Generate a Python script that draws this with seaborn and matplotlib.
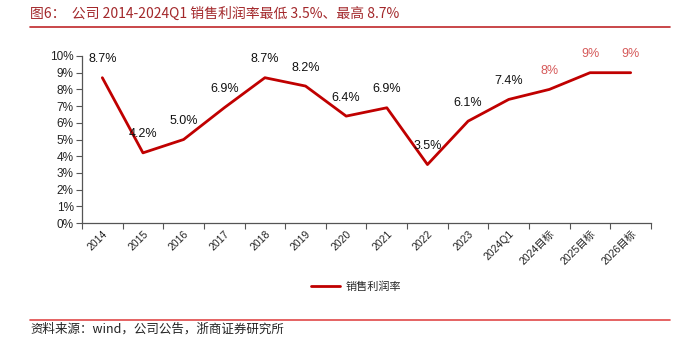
import matplotlib
matplotlib.use("Agg")
import matplotlib.pyplot as plt
from matplotlib.lines import Line2D
from matplotlib.ticker import FuncFormatter, FixedLocator
import seaborn as sns
import pandas as pd

periods = ["2014", "2015", "2016", "2017", "2018", "2019", "2020", "2021",
           "2022", "2023", "2024Q1", "2024目标", "2025目标", "2026目标"]
margin = [8.7, 4.2, 5.0, 6.9, 8.7, 8.2, 6.4, 6.9, 3.5, 6.1, 7.4, 8, 9, 9]
is_target = [False] * 11 + [True] * 3

title_text = "图6：  公司 2014-2024Q1 销售利润率最低 3.5%、最高 8.7%"
series_name = "销售利润率"
source_text = "资料来源：wind，公司公告，浙商证券研究所"

sns.set_theme(style="white")
plt.rcParams["font.family"] = ["Liberation Sans", "Noto Sans CJK SC", "DejaVu Sans"]
cjk = ["Noto Sans CJK SC", "DejaVu Sans"]

LINE_RED = "#C00000"
TARGET_RED = "#D65A5A"

df = pd.DataFrame({"period": periods, "rate": margin})

fig = plt.figure(figsize=(6.84, 3.37), dpi=100)
ax = fig.add_axes([82 / 684, 1 - 223 / 337, (651 - 82) / 684, (223 - 56) / 337])

sns.lineplot(data=df, x="period", y="rate", sort=False, color=LINE_RED,
             linewidth=2.0, ax=ax, legend=False)

n = len(periods)
ax.set_xlim(-0.5, n - 0.5)
ax.set_ylim(0, 10)
ax.set_yticks(range(0, 11))
ax.yaxis.set_major_formatter(FuncFormatter(lambda v, _: f"{v:.0f}%"))
ax.set_xlabel("")
ax.set_ylabel("")

# category labels at centres, tick marks on the category boundaries
ax.set_xticks(range(n))
ax.set_xticklabels(periods, rotation=45, ha="right", rotation_mode="anchor",
                   fontsize=7.5, color="#222222")
ax.xaxis.set_minor_locator(FixedLocator([i + 0.5 for i in range(-1, n)]))
ax.tick_params(axis="x", which="major", length=0, pad=4)
ax.tick_params(axis="x", which="minor", length=4, width=0.8, color="#555555",
               direction="out", bottom=True)
ax.tick_params(axis="y", which="major", length=4, width=0.8, color="#555555",
               direction="out", left=True, labelsize=8.5, labelcolor="#222222", pad=2)

for side in ("top", "right"):
    ax.spines[side].set_visible(False)
for side in ("left", "bottom"):
    ax.spines[side].set_color("#555555")
    ax.spines[side].set_linewidth(0.9)

# value labels above each point
for i, (v, tgt) in enumerate(zip(margin, is_target)):
    label = f"{v:.0f}%" if tgt else f"{v:.1f}%"
    ax.annotate(label, (i, v), xytext=(0, 9), textcoords="offset points",
                ha="center", va="bottom", fontsize=9,
                color=TARGET_RED if tgt else "#111111")

# legend below the axis
handle = Line2D([], [], color=LINE_RED, linewidth=2.0)
fig.legend([handle], [series_name], loc="center", bbox_to_anchor=(356 / 684, 1 - 287 / 337),
           frameon=False, prop={"family": cjk, "size": 8}, handlelength=2.6,
           handletextpad=0.5)

# header and footer
fig.text(30 / 684, 1 - 14 / 337, title_text, ha="left", va="center",
         fontsize=10, color="#A3282B", family=cjk)
fig.add_artist(Line2D([30 / 684, 670 / 684], [1 - 27 / 337] * 2,
                      color="#C0282B", linewidth=1.2, transform=fig.transFigure))
fig.add_artist(Line2D([30 / 684, 670 / 684], [1 - 320 / 337] * 2,
                      color="#E04848", linewidth=1.2, transform=fig.transFigure))
fig.text(30 / 684, 1 - 323 / 337, source_text, ha="left", va="top",
         fontsize=9, color="#222222", family=cjk)

fig.savefig("out.png", dpi=100)
